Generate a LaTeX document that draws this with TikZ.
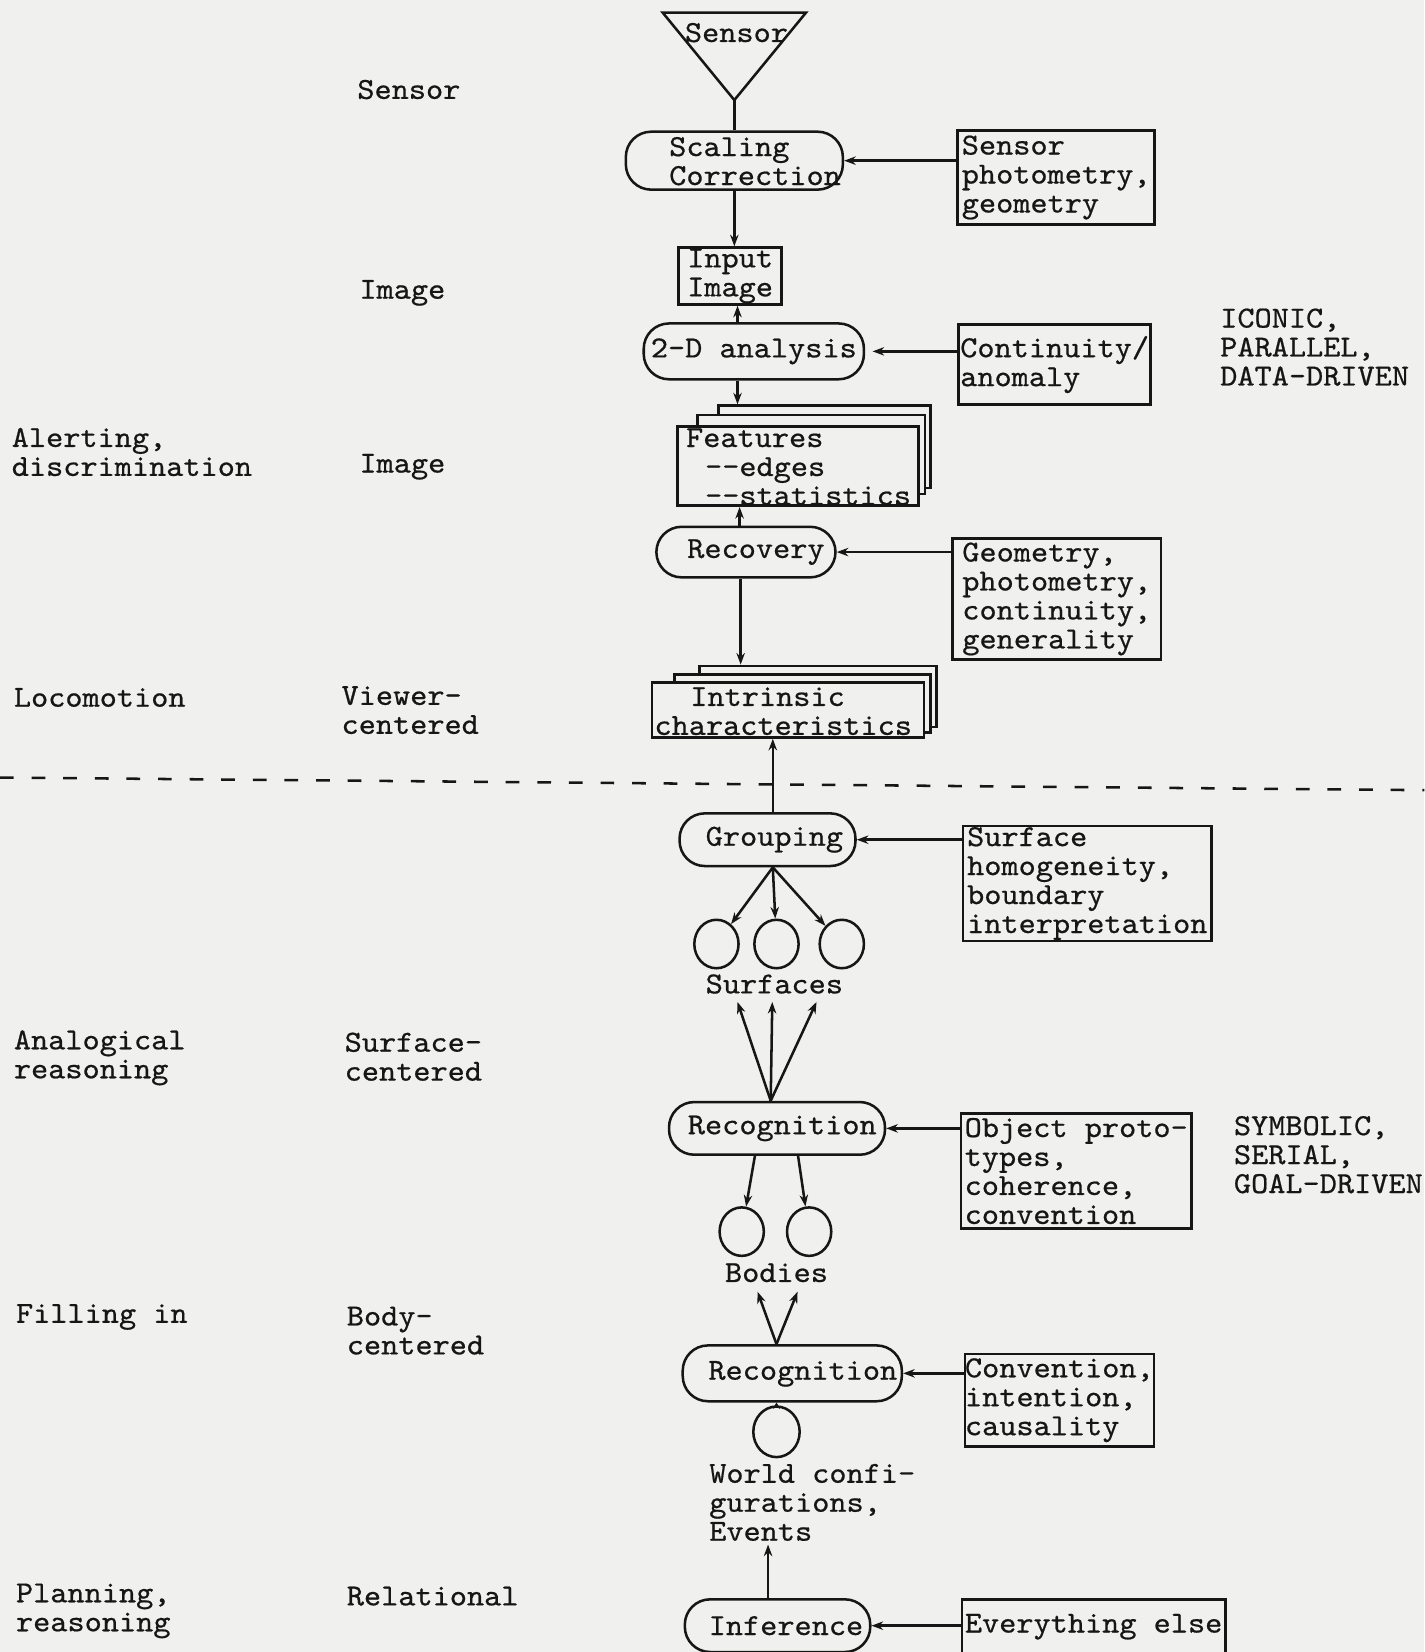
\documentclass[tikz,border=0pt]{standalone}
\usepackage{fontspec}
\setmonofont{lmmono10-regular.otf}[FakeStretch=1.07,FakeBold=0.6]
\usetikzlibrary{arrows.meta,shapes.geometric,calc}
\definecolor{bg}{RGB}{240,240,238}
\definecolor{ink}{RGB}{22,22,22}
\begin{document}
\begin{tikzpicture}[x=1pt,y=-1pt,line width=2.4pt,draw=ink,
  every node/.style={font=\ttfamily\fontsize{29}{27.5}\selectfont,text=ink},
  pill/.style={draw,rounded corners=24pt,inner sep=0pt},
  box/.style={draw,inner sep=0pt,align=left},
  layer/.style={draw,fill=bg,inner sep=0pt},
  txt/.style={inner sep=0pt,align=left},
  circ/.style={draw,ellipse,inner sep=0pt,minimum width=42pt,minimum height=46pt},
  arr/.style={-{Stealth[length=11pt,width=8pt]}},
  sarr/.style={-{Stealth[length=6pt,width=7pt]}}]
\fill[bg] (0,0) rectangle (1352,1568);
\useasboundingbox (0,0) rectangle (1352,1568);

% ---------- left and right labels ----------
\node[txt,anchor=west] (lSensor) at (338,85) {Sensor};
\node[txt,anchor=west] (lImage1) at (340,278) {Image};
\node[txt,anchor=west] (lAlert) at (10,429) {Alerting,\\discrimination};
\node[txt,anchor=west] (lImage2) at (340,443) {Image};
\node[txt,anchor=west] (lLoco) at (12,662) {Locomotion};
\node[txt,anchor=west] (lViewer) at (323,674) {Viewer-\\centered};
\node[txt,anchor=west] (lAnalog) at (12,1004) {Analogical\\reasoning};
\node[txt,anchor=west] (lSurfc) at (326,1003) {Surface-\\centered};
\node[txt,anchor=west] (lFill) at (14,1250) {Filling in};
\node[txt,anchor=west] (lBody) at (328,1263) {Body-\\centered};
\node[txt,anchor=west] (lPlan) at (14,1529) {Planning,\\reasoning};
\node[txt,anchor=west] (lRel) at (328,1515) {Relational};
\node[txt,anchor=west] (iconic) at (1157,329.5) {ICONIC,\\PARALLEL,\\DATA-DRIVEN};
\node[txt,anchor=west] (symbolic) at (1170,1096) {SYMBOLIC,\\SERIAL,\\GOAL-DRIVEN};

% ---------- sensor ----------
\coordinate (tl) at (629,12);
\coordinate (tr) at (765,12);
\coordinate (apex) at (697,95);
\draw (tl) -- (tr) -- (apex) -- cycle;
\node[txt] (sensT) at (699,31) {Sensor};

\node[pill,minimum width=206pt,minimum height=55pt] (scal) at (697,152.5) {};
\node[txt,anchor=west] (scalT) at (634,153) {Scaling\\Correction};
\node[box,minimum width=187pt,minimum height=89pt] (spg) at (1002.5,168.5) {Sensor\\photometry,\\geometry};

\node[box,align=center,minimum width=98pt,minimum height=54pt] (inp) at (693,262) {Input\\Image};

\node[pill,minimum width=209pt,minimum height=53pt] (twod) at (715.5,333.5) {2-D analysis};
\node[box,minimum width=182pt,minimum height=76pt] (cont) at (1001,346) {Continuity/\\anomaly};

% features stack
\node[layer,minimum width=201pt,minimum height=78pt] (feat3) at (782.5,424) {};
\node[layer,minimum width=216pt,minimum height=75pt] (feat2) at (770,431.5) {};
\node[layer,minimum width=229pt,minimum height=75pt] (feat) at (757.5,442.5) {};
\node[txt,anchor=west] (featT) at (650,443) {Features\\\hspace*{18pt}-\kern0pt-edges\\\hspace*{18pt}-\kern0pt-statistics};

\node[pill,minimum width=170pt,minimum height=48pt] (rec) at (708,524) {};
\node[txt] (recT) at (717.5,524) {Recovery};
\node[box,minimum width=198pt,minimum height=115pt] (geo) at (1003,568.5) {Geometry,\\photometry,\\continuity,\\generality};

% intrinsic stack
\node[layer,minimum width=225pt,minimum height=58pt] (intr3) at (776.5,661) {};
\node[layer,minimum width=243pt,minimum height=55pt] (intr2) at (761.5,667.5) {};
\node[layer,minimum width=258pt,minimum height=52pt] (intr) at (748,674) {};
\node[txt,anchor=west] (intrT) at (620,675) {\hspace*{34pt}Intrinsic\\characteristics};

% dashed divider
\coordinate (dl) at (0,738);
\coordinate (dr) at (1352,750);
\draw[line width=2.4pt,dash pattern=on 13pt off 17pt] (dl) -- (dr);

\node[pill,minimum width=167pt,minimum height=50pt] (grp) at (728.5,797) {};
\node[txt] (grpT) at (735,797) {Grouping};
\node[box,minimum width=236pt,minimum height=109pt] (surf) at (1032,838.5) {Surface\\homogeneity,\\boundary\\interpretation};

\node[circ] (c1) at (680,896) {};
\node[circ] (c2) at (737,896) {};
\node[circ] (c3) at (799,896) {};
\node[txt] (surfT) at (735,934) {Surfaces};
\coordinate (s1) at (700,951);
\coordinate (s2) at (733,951);
\coordinate (s3) at (775,951);

\node[pill,minimum width=205pt,minimum height=50pt] (rec1) at (737.5,1071) {};
\node[txt] (rec1T) at (742.5,1071) {Recognition};
\node[box,minimum width=219pt,minimum height=109pt] (obj) at (1021.5,1111.5) {Object proto-\\types,\\coherence,\\convention};

\node[circ] (b1) at (704,1169) {};
\node[circ] (b2) at (768,1169) {};
\node[txt] (bodT) at (737,1208) {Bodies};
\coordinate (bd1) at (719,1226);
\coordinate (bd2) at (757,1226);

\node[pill,minimum width=208pt,minimum height=53pt] (rec2) at (752,1303.5) {};
\node[txt] (rec2T) at (762,1304) {Recognition};
\node[box,minimum width=177pt,minimum height=88pt] (conv) at (1005.5,1329) {Convention,\\intention,\\causality};

\node[circ,minimum width=44pt,minimum height=48pt] (wc) at (737,1359) {};
\node[txt,anchor=west] (worldT) at (672,1426) {World confi-\\gurations,\\Events};
\coordinate (ev) at (729,1466);

\node[pill,minimum width=176pt,minimum height=50pt] (inf) at (738,1543) {};
\node[txt] (infT) at (746,1543) {Inference};
\node[box,minimum width=250pt,minimum height=52pt] (every) at (1038,1544) {Everything else};

% ---------- connectors ----------
\coordinate (spine) at (700,0);
\draw (apex) -- (apex |- scal.north);
\draw[arr] (spg.west |- scal.east) -- (scal.east);
\draw[arr] (apex |- scal.south) -- (apex |- inp.north);
\draw[arr] (spine |- twod.north) -- (spine |- inp.south);
\draw[arr,shorten >=7pt] (cont.west |- twod.east) -- (twod.east);
\draw[arr] (spine |- twod.south) -- (spine |- feat3.north);
\draw[arr] ($(spine |- rec.north)+(2,0)$) -- ($(spine |- feat.south)+(2,0)$);
\draw[arr] (geo.west |- rec.east) -- (rec.east);
\draw[arr] ($(spine |- rec.south)+(3,0)$) -- ($(spine |- intr3.north)+(3,0)$);
\draw[arr] ($(grp.north)+(5,0)$) -- ($(grp.north |- intr.south)+(5,0)$);
\draw[arr] (surf.west |- grp.east) -- (grp.east);
\draw[arr] ($(grp.south)+(5,0)$) -- (c1);
\draw[arr] ($(grp.south)+(5,0)$) -- (c2);
\draw[arr] ($(grp.south)+(5,0)$) -- (c3);
\draw[arr] ($(rec1.north)+(-6,0)$) -- (s1);
\draw[arr] ($(rec1.north)+(-6,0)$) -- (s2);
\draw[arr] ($(rec1.north)+(-6,0)$) -- (s3);
\draw[arr] (obj.west |- rec1.east) -- (rec1.east);
\draw[arr] ($(rec1.south)+(-21,0)$) -- (b1);
\draw[arr] ($(rec1.south)+(20,0)$) -- (b2);
\draw[arr] ($(rec2.north)+(-15,0)$) -- (bd1);
\draw[arr] ($(rec2.north)+(-15,0)$) -- (bd2);
\draw[arr] (conv.west |- rec2.east) -- (rec2.east);
\draw[sarr] (wc.north) -- (wc.north |- rec2.south);
\draw[arr] ($(inf.north)+(-9,0)$) -- (ev);
\draw[arr] (every.west |- inf.east) -- (inf.east);
\end{tikzpicture}
\end{document}
